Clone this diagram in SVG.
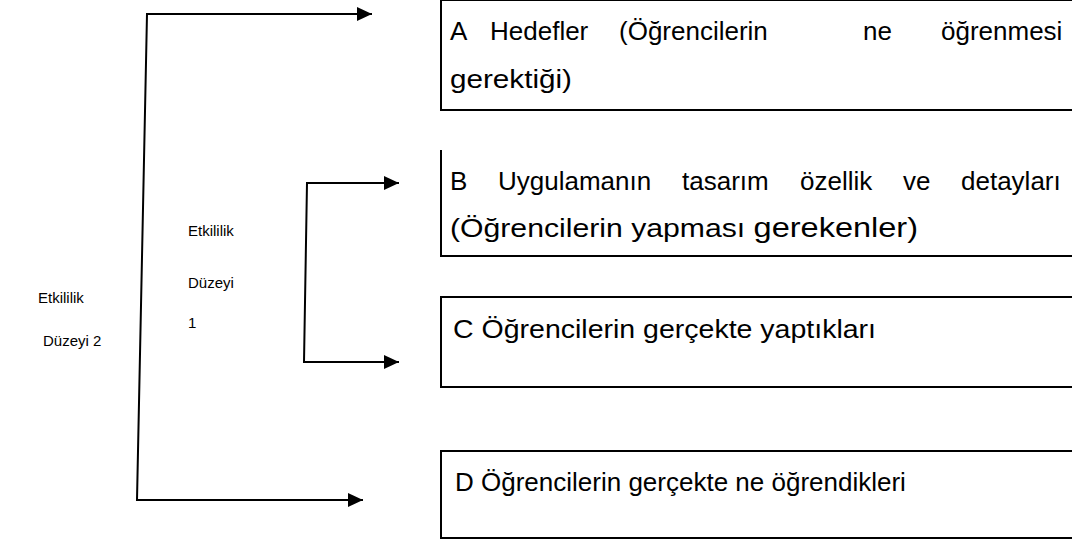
<svg xmlns="http://www.w3.org/2000/svg" width="1072" height="540" viewBox="0 0 1072 540">
<style>
.box{fill:#fff;stroke:#000;stroke-width:2}
.t{font-family:"Liberation Sans",Arial,sans-serif;font-size:26px;fill:#000}
.lbl{font-family:"Liberation Sans",Arial,sans-serif;font-size:15px;fill:#000}
.ln{fill:none;stroke:#000;stroke-width:2}
</style>
<defs>
<marker id="ah" markerWidth="15" markerHeight="14" refX="15" refY="7" orient="auto" markerUnits="userSpaceOnUse">
<path d="M0,0 L15,7 L0,14 Z" fill="#000"/>
</marker>
</defs>
<rect width="1072" height="540" fill="#fff"/>
<g id="connectors">
<polyline class="ln" points="147,14 137,500 363,500" marker-end="url(#ah)"/>
<path class="ln" d="M146,14 L372,14" marker-end="url(#ah)"/>
<polyline class="ln" points="307,183 304,362 399,362" marker-end="url(#ah)"/>
<path class="ln" d="M306,183 L399,183" marker-end="url(#ah)"/>
</g>
<g id="label-duzey2">
<text class="lbl" x="38" y="303">Etkililik</text>
<text class="lbl" x="43" y="346">Düzeyi 2</text>
</g>
<g id="label-duzey1">
<text class="lbl" x="188" y="236">Etkililik</text>
<text class="lbl" x="188" y="288">Düzeyi</text>
<text class="lbl" x="188" y="328">1</text>
</g>
<g id="node-a">
<rect class="box" x="441" y="0" width="640" height="110"/>
<text class="t" y="40"><tspan x="450">A</tspan><tspan x="490">Hedefler</tspan><tspan x="619">(Öğrencilerin</tspan><tspan x="863">ne</tspan><tspan x="941">öğrenmesi</tspan></text>
<text class="t" x="450" y="88" textLength="122" lengthAdjust="spacingAndGlyphs">gerektiği)</text>
</g>
<g id="node-b">
<path class="box" d="M1080,256 H441 V150"/>
<text class="t" y="190"><tspan x="450">B</tspan><tspan x="498">Uygulamanın</tspan><tspan x="682">tasarım</tspan><tspan x="800">özellik</tspan><tspan x="903">ve</tspan><tspan x="961">detayları</tspan></text>
<text class="t" x="450" y="237" textLength="468" lengthAdjust="spacingAndGlyphs">(Öğrencilerin yapması <tspan style="font-size:28px">gerekenler)</tspan></text>
</g>
<g id="node-c">
<rect class="box" x="441" y="297" width="640" height="90"/>
<text class="t" x="453" y="338" textLength="423" lengthAdjust="spacingAndGlyphs">C Öğrencilerin gerçekte yaptıkları</text>
</g>
<g id="node-d">
<rect class="box" x="441" y="451" width="640" height="87"/>
<text class="t" x="455" y="491">D Öğrencilerin gerçekte ne öğrendikleri</text>
</g>
</svg>
